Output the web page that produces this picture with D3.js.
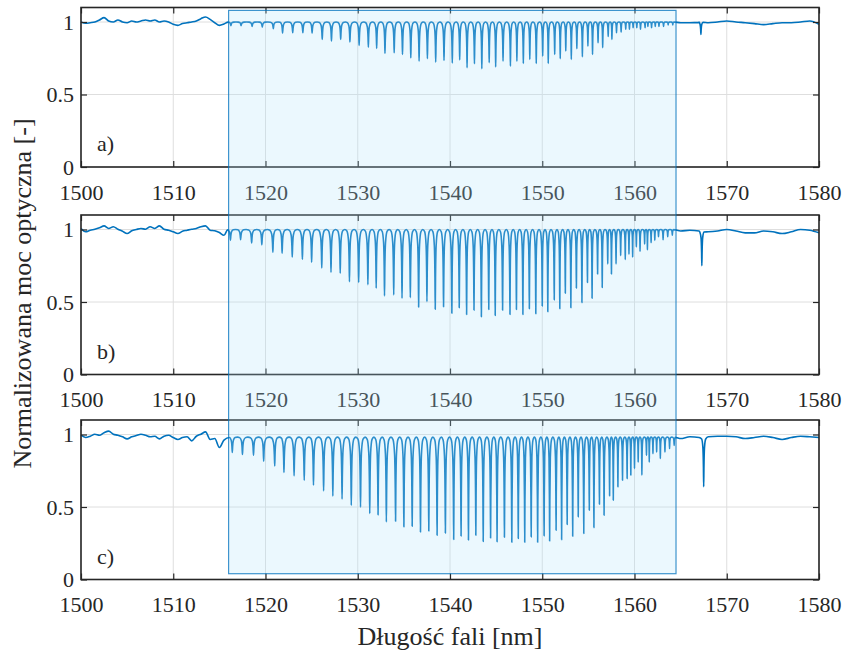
<!DOCTYPE html>
<html>
<head>
<meta charset="utf-8">
<script src="https://cdn.jsdelivr.net/npm/d3@7/dist/d3.min.js"></script>
<style>
	body { margin: 0; background: #fff; }
</style>
</head>
<body>
<svg id="chart" width="848" height="652"></svg>
<script>
// ---- data ----
var panelNames = ["a)", "b)", "c)"];
var xTicks = [1500, 1510, 1520, 1530, 1540, 1550, 1560, 1570, 1580];
var yTicks = [0, 0.5, 1];
var xLabel = "Długość fali [nm]";
var yLabel = "Normalizowana moc optyczna [-]";

// dip (resonance) wavelengths of the comb, nm
var dipWl = [
	1516.4, 1517.5, 1518.7, 1519.8, 1521.0, 1522.0, 1523.1, 1524.2, 1525.2, 1526.3,
	1527.3, 1528.3, 1529.3, 1530.3, 1531.3, 1532.2, 1533.1, 1534.1, 1535.0, 1535.9,
	1536.8, 1537.7, 1538.6, 1539.5, 1540.4, 1541.2, 1542.0, 1542.8, 1543.6, 1544.4,
	1545.1, 1545.9, 1546.7, 1547.4, 1548.1, 1548.8, 1549.5, 1550.2, 1550.8, 1551.5,
	1552.1, 1552.7, 1553.3, 1553.9, 1554.5, 1555.1, 1555.6, 1556.2, 1556.7, 1557.3,
	1557.7, 1558.2, 1558.7, 1559.2, 1559.6, 1560.0, 1560.4, 1560.8, 1561.3, 1561.6,
	1562.0, 1562.4, 1562.8, 1563.3, 1563.8, 1564.3
];
// small wavelength offset of the comb in each measurement
var dipShift = [-0.15, -0.2, 0];

// dip minima for each panel
var dipMinA = [
	0.975, 0.975, 0.970, 0.965, 0.954, 0.922, 0.926, 0.926, 0.922, 0.880,
	0.869, 0.880, 0.862, 0.839, 0.827, 0.818, 0.784, 0.788, 0.776, 0.753,
	0.730, 0.747, 0.723, 0.735, 0.717, 0.738, 0.685, 0.712, 0.678, 0.720,
	0.690, 0.730, 0.696, 0.730, 0.714, 0.742, 0.714, 0.765, 0.714, 0.776,
	0.747, 0.800, 0.742, 0.816, 0.760, 0.834, 0.776, 0.857, 0.823, 0.900,
	0.880, 0.926, 0.930, 0.950, 0.950, 0.960, 0.960, 0.950, 0.960, 0.970,
	0.960, 0.970, 0.970, 0.970, 0.980, 0.980
];
var dipMinB = [
	0.925, 0.930, 0.907, 0.895, 0.844, 0.837, 0.810, 0.795, 0.775, 0.735,
	0.705, 0.698, 0.640, 0.635, 0.620, 0.595, 0.542, 0.549, 0.526, 0.530,
	0.465, 0.503, 0.450, 0.467, 0.423, 0.461, 0.414, 0.444, 0.398, 0.449,
	0.407, 0.444, 0.414, 0.449, 0.414, 0.454, 0.419, 0.472, 0.433, 0.515,
	0.454, 0.560, 0.461, 0.596, 0.496, 0.635, 0.526, 0.693, 0.600, 0.763,
	0.693, 0.763, 0.820, 0.793, 0.830, 0.810, 0.880, 0.850, 0.900, 0.860,
	0.910, 0.925, 0.950, 0.930, 0.950, 0.960
];
var dipMinC = [
	0.876, 0.862, 0.857, 0.816, 0.783, 0.738, 0.715, 0.685, 0.650, 0.611,
	0.575, 0.554, 0.512, 0.499, 0.455, 0.446, 0.397, 0.402, 0.363, 0.368,
	0.328, 0.335, 0.305, 0.320, 0.276, 0.300, 0.272, 0.305, 0.262, 0.287,
	0.260, 0.292, 0.257, 0.283, 0.257, 0.294, 0.257, 0.301, 0.266, 0.340,
	0.275, 0.379, 0.299, 0.432, 0.317, 0.478, 0.358, 0.519, 0.443, 0.577,
	0.547, 0.639, 0.685, 0.696, 0.720, 0.765, 0.810, 0.720, 0.857, 0.810,
	0.869, 0.880, 0.835, 0.880, 0.903, 0.925
];
// level of the spectrum between the dips
var combTop = [1.0, 1.0, 0.982];

// spectrum before the comb, 1500 - 1515.5 nm every 0.5 nm
var leftWl = d3.range(1500, 1515.51, 0.5);
var leftA = [1.000, 0.991, 0.995, 1.000, 1.014, 1.030, 1.007, 1.000, 1.014, 1.000, 0.995, 1.007, 1.000, 1.007, 1.014, 1.007,
	1.014, 1.000, 1.007, 1.000, 0.984, 0.977, 0.989, 0.995, 1.000, 1.007, 1.023, 1.035, 1.018, 0.995, 0.977, 0.986];
var leftB = [1.007, 0.984, 0.995, 1.002, 1.012, 1.025, 1.007, 1.019, 1.002, 0.988, 0.972, 0.991, 1.000, 1.007, 1.002, 1.019,
	1.007, 1.025, 1.002, 0.995, 0.984, 0.972, 0.988, 0.995, 1.002, 1.007, 1.019, 1.025, 0.995, 0.991, 0.979, 0.960];
var leftC = [0.995, 0.979, 0.988, 1.002, 0.995, 1.012, 1.023, 1.002, 0.995, 0.984, 0.970, 0.984, 0.993, 1.002, 0.995, 0.984,
	0.988, 0.970, 0.988, 0.995, 0.979, 0.966, 0.979, 0.984, 0.956, 0.988, 1.002, 1.018, 0.966, 0.972, 0.910, 0.961];

// spectrum after the comb, 1565 - 1580 nm every 1 nm
var rightWl = d3.range(1565, 1580.01, 1);
var rightA = [0.995, 0.995, 1.000, 0.995, 1.000, 1.007, 1.000, 0.995, 0.989, 0.982, 0.989, 0.995, 0.995, 1.000, 1.007, 0.984];
var rightB = [0.990, 0.995, 0.990, 0.984, 0.990, 1.000, 0.990, 0.977, 0.977, 0.990, 0.984, 0.972, 0.984, 1.000, 0.995, 0.977];
var rightC = [0.972, 0.984, 0.979, 0.984, 0.988, 0.988, 0.984, 0.972, 0.979, 0.988, 0.979, 0.966, 0.979, 0.988, 0.984, 0.979];

// single isolated dip near 1567 nm
var sideDipWl = [1567.2, 1567.3, 1567.5];
var sideDipMin = [0.915, 0.75, 0.64];

// highlighted wavelength band and its vertical reach (top panel value, bottom panel value)
var bandWl = [1516.0, 1564.5];
var bandLevel = [1.08, 0.04];

// ---- layout ----
var W = 848, H = 652;
var margin = { left: 81, right: 29 };
var panelTop = [7.5, 215, 420];
var panelH = 159.5;
var yDomain = [0, 1.1];
var font = "'Liberation Serif', 'Times New Roman', serif";

var colors = {
	line: "#0072BD",
	axis: "#262626",
	grid: "#dedede",
	band: "#afe3fb",
	bandEdge: "#0072BD"
};

var dipMins = [dipMinA, dipMinB, dipMinC];
var lefts = [leftA, leftB, leftC];
var rights = [rightA, rightB, rightC];

var svg = d3.select("#chart");
var x = d3.scaleLinear().domain([1500, 1580]).range([margin.left, W - margin.right]);

// profile of one dip: offset as fraction of the half gap, recovery as fraction of depth
var dipShape = [[-0.55, 0.97], [-0.22, 0.8], [-0.07, 0.4], [0, 0], [0.07, 0.4], [0.22, 0.8], [0.55, 0.97]];

function spectrum(p) {
	var pts = [];
	leftWl.forEach(function(w, i) { pts.push([w, lefts[p][i]]); });

	var top = combTop[p], mins = dipMins[p], n = dipWl.length;
	dipWl.forEach(function(w0, i) {
		var w = w0 + dipShift[p];
		var hl = (i > 0 ? dipWl[i] - dipWl[i - 1] : dipWl[1] - dipWl[0]) / 2;
		var hr = (i < n - 1 ? dipWl[i + 1] - dipWl[i] : hl * 2) / 2;
		var m = mins[i];
		dipShape.forEach(function(s) {
			var h = s[0] < 0 ? hl : hr;
			pts.push([w + s[0] * h, m + s[1] * (top - m)]);
		});
		if (i < n - 1) pts.push([w + hr, top]);
	});

	rightWl.forEach(function(w, i) { pts.push([w, rights[p][i]]); });

	// isolated dip
	var sw = sideDipWl[p], sm = sideDipMin[p], st = rights[p][2];
	dipShape.forEach(function(s) {
		pts.push([sw + s[0] * 0.4, sm + s[1] * (st - sm)]);
	});

	pts.sort(function(a, b) { return a[0] - b[0]; });
	return pts;
}

function styleAxis(g) {
	g.attr("font-family", null);
	g.select(".domain").remove();
	g.selectAll(".tick line")
		.attr("stroke", colors.axis)
		.attr("stroke-width", 1.2);
	g.selectAll(".tick text")
		.attr("fill", colors.axis)
		.style("font-family", font)
		.style("font-size", "22px");
}

panelNames.forEach(function(name, p) {
	var top = panelTop[p], bottom = top + panelH;
	var y = d3.scaleLinear().domain(yDomain).range([bottom, top]);
	var g = svg.append("g").attr("class", "panel");

	// grid
	g.selectAll(".gx").data(xTicks).enter().append("line")
		.attr("x1", x).attr("x2", x)
		.attr("y1", top).attr("y2", bottom)
		.attr("stroke", colors.grid).attr("stroke-width", 1);
	g.selectAll(".gy").data(yTicks).enter().append("line")
		.attr("x1", x.range()[0]).attr("x2", x.range()[1])
		.attr("y1", y).attr("y2", y)
		.attr("stroke", colors.grid).attr("stroke-width", 1);

	// spectrum
	var line = d3.line()
		.x(function(d) { return x(d[0]); })
		.y(function(d) { return y(d[1]); })
		.curve(d3.curveMonotoneX);
	g.append("path")
		.datum(spectrum(p))
		.attr("d", line)
		.attr("fill", "none")
		.attr("stroke", colors.line)
		.attr("stroke-width", 1.6)
		.attr("stroke-linejoin", "round");

	// axes, ticks pointing inwards on all four sides
	g.append("g").attr("transform", "translate(0," + bottom + ")")
		.call(d3.axisBottom(x).tickValues(xTicks).tickFormat(d3.format("d"))
			.tickSizeInner(-6).tickSizeOuter(0).tickPadding(17))
		.call(styleAxis);
	g.append("g").attr("transform", "translate(0," + top + ")")
		.call(d3.axisTop(x).tickValues(xTicks).tickFormat("")
			.tickSizeInner(-6).tickSizeOuter(0))
		.call(styleAxis);
	g.append("g").attr("transform", "translate(" + x.range()[0] + ",0)")
		.call(d3.axisLeft(y).tickValues(yTicks).tickFormat(d3.format("~g"))
			.tickSizeInner(-6).tickSizeOuter(0).tickPadding(7))
		.call(styleAxis);
	g.append("g").attr("transform", "translate(" + x.range()[1] + ",0)")
		.call(d3.axisRight(y).tickValues(yTicks).tickFormat("")
			.tickSizeInner(-6).tickSizeOuter(0))
		.call(styleAxis);

	g.append("rect")
		.attr("x", x.range()[0]).attr("y", top)
		.attr("width", x.range()[1] - x.range()[0]).attr("height", panelH)
		.attr("fill", "none")
		.attr("stroke", colors.axis)
		.attr("stroke-width", 1.6);

	g.append("text")
		.attr("x", x.range()[0] + 16)
		.attr("y", bottom - 16)
		.attr("fill", colors.axis)
		.style("font-family", font)
		.style("font-size", "22px")
		.text(name);
});

// highlighted band over all three panels
var yTopPanel = d3.scaleLinear().domain(yDomain).range([panelTop[0] + panelH, panelTop[0]]);
var yBottomPanel = d3.scaleLinear().domain(yDomain).range([panelTop[2] + panelH, panelTop[2]]);
var bandY0 = yTopPanel(bandLevel[0]), bandY1 = yBottomPanel(bandLevel[1]);
svg.append("rect")
	.attr("x", x(bandWl[0]))
	.attr("y", bandY0)
	.attr("width", x(bandWl[1]) - x(bandWl[0]))
	.attr("height", bandY1 - bandY0)
	.attr("fill", colors.band)
	.attr("fill-opacity", 0.25)
	.attr("stroke", colors.bandEdge)
	.attr("stroke-opacity", 0.75)
	.attr("stroke-width", 1.2);

// axis titles
svg.append("text")
	.attr("x", (x.range()[0] + x.range()[1]) / 2)
	.attr("y", 645)
	.attr("text-anchor", "middle")
	.attr("fill", colors.axis)
	.style("font-family", font)
	.style("font-size", "26px")
	.text(xLabel);

svg.append("text")
	.attr("transform", "translate(31," + (panelTop[0] + panelTop[2] + panelH) / 2 + ") rotate(-90)")
	.attr("text-anchor", "middle")
	.attr("fill", colors.axis)
	.style("font-family", font)
	.style("font-size", "26px")
	.text(yLabel);
</script>
</body>
</html>
